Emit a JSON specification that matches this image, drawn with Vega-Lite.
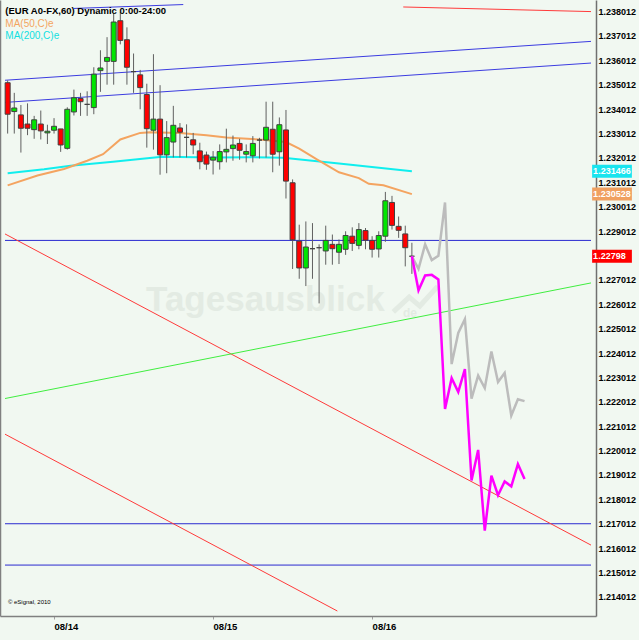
{
  "$schema": "https://vega.github.io/schema/vega-lite/v6.json",
  "width": 596,
  "height": 616,
  "autosize": {"type": "none"},
  "padding": {"left": 0, "top": 0, "right": 43, "bottom": 24},
  "background": "#f1f8f1",
  "config": {
    "view": {"stroke": null},
    "axis": {"grid": false, "labelFont": "Liberation Sans", "labelColor": "#000000", "domainColor": "#808080", "domainWidth": 1.5}
  },
  "datasets": {
    "candles": [
      {"i":0,"o":1.235095,"h":1.235188,"l":1.233010,"c":1.233804},
      {"i":1,"o":1.233913,"h":1.234680,"l":1.233010,"c":1.234059},
      {"i":2,"o":1.233776,"h":1.234180,"l":1.232231,"c":1.233228},
      {"i":3,"o":1.233401,"h":1.234248,"l":1.232945,"c":1.233228},
      {"i":4,"o":1.233171,"h":1.233736,"l":1.232796,"c":1.233574},
      {"i":5,"o":1.233401,"h":1.233954,"l":1.232768,"c":1.233119},
      {"i":6,"o":1.233038,"h":1.233373,"l":1.232582,"c":1.233106},
      {"i":7,"o":1.233147,"h":1.233643,"l":1.233010,"c":1.233308},
      {"i":8,"o":1.233200,"h":1.233200,"l":1.232259,"c":1.232542},
      {"i":9,"o":1.232405,"h":1.234087,"l":1.232352,"c":1.234006},
      {"i":10,"o":1.233897,"h":1.234813,"l":1.233752,"c":1.234478},
      {"i":11,"o":1.234450,"h":1.234680,"l":1.233736,"c":1.234317},
      {"i":12,"o":1.234208,"h":1.234744,"l":1.233736,"c":1.234208},
      {"i":13,"o":1.234075,"h":1.235729,"l":1.233804,"c":1.235446},
      {"i":14,"o":1.235591,"h":1.236426,"l":1.234720,"c":1.235700},
      {"i":15,"o":1.235971,"h":1.236963,"l":1.235015,"c":1.236132},
      {"i":16,"o":1.235971,"h":1.237947,"l":1.235015,"c":1.237584},
      {"i":17,"o":1.237637,"h":1.238000,"l":1.236668,"c":1.236830},
      {"i":18,"o":1.236858,"h":1.237366,"l":1.235015,"c":1.235729},
      {"i":19,"o":1.235551,"h":1.236293,"l":1.234680,"c":1.235551},
      {"i":20,"o":1.235418,"h":1.235620,"l":1.234006,"c":1.234894},
      {"i":21,"o":1.234611,"h":1.235055,"l":1.232433,"c":1.233211},
      {"i":22,"o":1.233147,"h":1.236265,"l":1.232352,"c":1.233603},
      {"i":23,"o":1.233603,"h":1.234994,"l":1.231324,"c":1.232138},
      {"i":24,"o":1.232138,"h":1.233522,"l":1.231384,"c":1.232844},
      {"i":25,"o":1.232663,"h":1.234147,"l":1.232030,"c":1.233349},
      {"i":26,"o":1.233240,"h":1.233441,"l":1.232030,"c":1.233066},
      {"i":27,"o":1.232856,"h":1.233389,"l":1.232030,"c":1.232856},
      {"i":28,"o":1.232756,"h":1.233038,"l":1.232163,"c":1.232542},
      {"i":29,"o":1.232300,"h":1.232635,"l":1.231545,"c":1.231856},
      {"i":30,"o":1.232130,"h":1.232272,"l":1.231525,"c":1.231759},
      {"i":31,"o":1.231921,"h":1.232292,"l":1.231332,"c":1.232042},
      {"i":32,"o":1.231856,"h":1.232566,"l":1.231533,"c":1.232272},
      {"i":33,"o":1.232259,"h":1.233211,"l":1.231828,"c":1.232364},
      {"i":34,"o":1.232393,"h":1.232929,"l":1.231896,"c":1.232542},
      {"i":35,"o":1.232606,"h":1.232796,"l":1.231937,"c":1.232324},
      {"i":36,"o":1.232163,"h":1.232566,"l":1.231828,"c":1.232272},
      {"i":37,"o":1.232098,"h":1.232905,"l":1.231828,"c":1.232606},
      {"i":38,"o":1.232744,"h":1.232836,"l":1.231989,"c":1.232744},
      {"i":39,"o":1.232744,"h":1.234317,"l":1.232030,"c":1.233268},
      {"i":40,"o":1.233187,"h":1.234317,"l":1.231424,"c":1.232163},
      {"i":41,"o":1.232263,"h":1.233671,"l":1.231695,"c":1.233373},
      {"i":42,"o":1.233159,"h":1.233978,"l":1.230347,"c":1.231061},
      {"i":43,"o":1.230993,"h":1.231130,"l":1.227459,"c":1.228653},
      {"i":44,"o":1.228601,"h":1.229274,"l":1.227056,"c":1.227499},
      {"i":45,"o":1.227499,"h":1.229407,"l":1.226757,"c":1.228359},
      {"i":46,"o":1.228290,"h":1.229339,"l":1.227056,"c":1.228290},
      {"i":47,"o":1.228330,"h":1.228468,"l":1.226047,"c":1.228330},
      {"i":48,"o":1.228197,"h":1.229234,"l":1.227633,"c":1.228629},
      {"i":49,"o":1.228468,"h":1.228871,"l":1.227633,"c":1.228290},
      {"i":50,"o":1.228145,"h":1.228669,"l":1.227661,"c":1.228468},
      {"i":51,"o":1.228266,"h":1.229004,"l":1.228036,"c":1.228831},
      {"i":52,"o":1.228802,"h":1.229165,"l":1.228197,"c":1.228508},
      {"i":53,"o":1.228427,"h":1.229339,"l":1.228266,"c":1.229073},
      {"i":54,"o":1.229032,"h":1.229137,"l":1.228266,"c":1.228641},
      {"i":55,"o":1.228629,"h":1.228802,"l":1.227927,"c":1.228266},
      {"i":56,"o":1.228278,"h":1.229004,"l":1.227927,"c":1.228831},
      {"i":57,"o":1.228802,"h":1.230618,"l":1.228572,"c":1.230255},
      {"i":58,"o":1.230186,"h":1.230456,"l":1.229073,"c":1.229246},
      {"i":59,"o":1.229206,"h":1.229609,"l":1.228734,"c":1.229044},
      {"i":60,"o":1.228895,"h":1.229234,"l":1.227564,"c":1.228330},
      {"i":61,"o":1.227980,"h":1.228532,"l":1.227257,"c":1.227980}
    ],
    "ma": [
      {"s":"MA200","i":0,"p":1.231384},
      {"s":"MA200","i":5.5,"p":1.231545},
      {"s":"MA200","i":9.5,"p":1.231695},
      {"s":"MA200","i":15.9,"p":1.231856},
      {"s":"MA200","i":23.3,"p":1.232058},
      {"s":"MA200","i":31.2,"p":1.232030},
      {"s":"MA200","i":36.7,"p":1.232042},
      {"s":"MA200","i":41.6,"p":1.232017},
      {"s":"MA200","i":50,"p":1.231780},
      {"s":"MA200","i":61,"p":1.231466},
      {"s":"MA50","i":0,"p":1.230888},
      {"s":"MA50","i":4.5,"p":1.231291},
      {"s":"MA50","i":8.5,"p":1.231558},
      {"s":"MA50","i":12,"p":1.231896},
      {"s":"MA50","i":14.4,"p":1.232163},
      {"s":"MA50","i":17,"p":1.232768},
      {"s":"MA50","i":20,"p":1.233038},
      {"s":"MA50","i":21.5,"p":1.233066},
      {"s":"MA50","i":26,"p":1.233038},
      {"s":"MA50","i":30,"p":1.232945},
      {"s":"MA50","i":33,"p":1.232850},
      {"s":"MA50","i":38,"p":1.232768},
      {"s":"MA50","i":42,"p":1.232663},
      {"s":"MA50","i":44,"p":1.232393},
      {"s":"MA50","i":46.6,"p":1.231961},
      {"s":"MA50","i":50,"p":1.231424},
      {"s":"MA50","i":53,"p":1.231182},
      {"s":"MA50","i":54.5,"p":1.230952},
      {"s":"MA50","i":56.7,"p":1.230888},
      {"s":"MA50","i":61,"p":1.230528}
    ],
    "proj": [
      {"s":"gray","i":61,"p":1.227980},
      {"s":"gray","i":62,"p":1.227459},
      {"s":"gray","i":63,"p":1.228468},
      {"s":"gray","i":64,"p":1.227822},
      {"s":"gray","i":65,"p":1.227996},
      {"s":"gray","i":66,"p":1.230186},
      {"s":"gray","i":67,"p":1.223558},
      {"s":"gray","i":68,"p":1.224837},
      {"s":"gray","i":69,"p":1.225402},
      {"s":"gray","i":70,"p":1.222146},
      {"s":"gray","i":71,"p":1.223086},
      {"s":"gray","i":72,"p":1.222578},
      {"s":"gray","i":73,"p":1.224071},
      {"s":"gray","i":74,"p":1.222820},
      {"s":"gray","i":75,"p":1.223195},
      {"s":"gray","i":76,"p":1.221449},
      {"s":"gray","i":77,"p":1.222118},
      {"s":"gray","i":78,"p":1.222038},
      {"s":"magenta","i":61,"p":1.227980},
      {"s":"magenta","i":62,"p":1.226584},
      {"s":"magenta","i":63,"p":1.227189},
      {"s":"magenta","i":64,"p":1.227217},
      {"s":"magenta","i":65,"p":1.227027},
      {"s":"magenta","i":66,"p":1.221715},
      {"s":"magenta","i":67,"p":1.222981},
      {"s":"magenta","i":68,"p":1.222417},
      {"s":"magenta","i":69,"p":1.223357},
      {"s":"magenta","i":70,"p":1.218786},
      {"s":"magenta","i":71,"p":1.220037},
      {"s":"magenta","i":72,"p":1.216729},
      {"s":"magenta","i":73,"p":1.218988},
      {"s":"magenta","i":74,"p":1.218181},
      {"s":"magenta","i":75,"p":1.218746},
      {"s":"magenta","i":76,"p":1.218544},
      {"s":"magenta","i":77,"p":1.219456},
      {"s":"magenta","i":78,"p":1.218851}
    ],
    "lines": [
      {"id":"chan_top","kind":"channel","i":10,"p":1.238141},
      {"id":"chan_top","kind":"channel","i":26.5,"p":1.238300},
      {"id":"chan_up","kind":"channel","i":-0.4,"p":1.235196},
      {"id":"chan_up","kind":"channel","i":88.03,"p":1.236790},
      {"id":"chan_lo","kind":"channel","i":-0.4,"p":1.234288},
      {"id":"chan_lo","kind":"channel","i":88.03,"p":1.235902},
      {"id":"h1","kind":"level","i":-0.4,"p":1.228629},
      {"id":"h1","kind":"level","i":88.03,"p":1.228629},
      {"id":"h2","kind":"level","i":-0.4,"p":1.217012},
      {"id":"h2","kind":"level","i":88.03,"p":1.217012},
      {"id":"h3","kind":"level","i":-0.4,"p":1.215317},
      {"id":"h3","kind":"level","i":88.03,"p":1.215317},
      {"id":"r_top","kind":"resist","i":59.7,"p":1.238201},
      {"id":"r_top","kind":"resist","i":88.03,"p":1.238012},
      {"id":"r1","kind":"resist","i":-0.4,"p":1.228895},
      {"id":"r1","kind":"resist","i":88.03,"p":1.216136},
      {"id":"r2","kind":"resist","i":-0.4,"p":1.220684},
      {"id":"r2","kind":"resist","i":49.75,"p":1.213434},
      {"id":"g1","kind":"support","i":-0.4,"p":1.222146},
      {"id":"g1","kind":"support","i":88.03,"p":1.226886}
    ],
    "arrow": [
      {"i":58.2,"p":1.225696},
      {"i":60.6,"p":1.226301},
      {"i":62.2,"p":1.225938},
      {"i":64.9,"p":1.226745}
    ],
    "tags": [
      {"kind":"MA200","p":1.231466,"txt":"1.231466"},
      {"kind":"MA50","p":1.230528,"txt":"1.230528"},
      {"kind":"last","p":1.227980,"txt":"1.22798"}
    ]
  },
  "resolve": {"axis": {"y": "independent"}, "scale": {"color": "independent"}},
  "layer": [
    {
      "data": {"name": "lines"},
      "mark": {"type": "line", "strokeWidth": 1, "clip": true},
      "encoding": {
        "x": {"field": "i", "type": "quantitative", "title": null,
          "scale": {"domain": [-0.4, 88.03], "nice": false, "zero": false},
          "axis": {"orient": "bottom", "values": [7, 31, 55], "labelExpr": "datum.value == 7 ? '08/14' : datum.value == 31 ? '08/15' : '08/16'",
            "labelAlign": "left", "labelFontWeight": "bold", "labelFontSize": 9.5, "tickSize": 3, "tickColor": "#a0a0a0", "labelPadding": 2, "labelFlush": false}},
        "y": {"field": "p", "type": "quantitative", "title": null,
          "scale": {"domain": [1.213434, 1.238282], "nice": false, "zero": false},
          "axis": {"orient": "left", "labels": false, "ticks": false, "domain": true}},
        "detail": {"field": "id"},
        "color": {"field": "kind", "type": "nominal", "legend": null,
          "scale": {"domain": ["channel", "level", "resist", "support"], "range": ["#3c3ce0", "#2a2ad0", "#ff3a3a", "#40ee40"]}}
      }
    },
    {
      "data": {"values": [{}]},
      "mark": {"type": "text", "font": "Liberation Sans", "fontWeight": "bold", "fontSize": 35, "color": "#e3ebe3", "align": "center", "baseline": "middle"},
      "encoding": {
        "x": {"datum": 38.9, "type": "quantitative"},
        "y": {"datum": 1.22618, "type": "quantitative", "axis": null},
        "text": {"value": "Tagesausblick"}
      }
    },
    {
      "data": {"name": "arrow"},
      "mark": {"type": "line", "strokeWidth": 5, "color": "#e3ebe3"},
      "encoding": {
        "x": {"field": "i", "type": "quantitative", "title": null},
        "y": {"field": "p", "type": "quantitative", "title": null, "axis": null}
      }
    },
    {
      "data": {"values": [{}]},
      "mark": {"type": "text", "font": "Liberation Sans", "fontWeight": "bold", "fontSize": 12, "color": "#e3ebe3", "align": "center", "baseline": "middle"},
      "encoding": {
        "x": {"datum": 60.7, "type": "quantitative"},
        "y": {"datum": 1.225656, "type": "quantitative", "axis": null},
        "text": {"value": "de"}
      }
    },
    {
      "data": {"name": "ma"},
      "mark": {"type": "line", "strokeWidth": 2},
      "encoding": {
        "x": {"field": "i", "type": "quantitative", "title": null},
        "y": {"field": "p", "type": "quantitative", "title": null, "axis": null},
        "color": {"field": "s", "type": "nominal", "legend": null,
          "scale": {"domain": ["MA50", "MA200"], "range": ["#f4a460", "#10eeee"]}}
      }
    },
    {
      "data": {"name": "candles"},
      "mark": {"type": "rule", "color": "#606060", "strokeWidth": 1},
      "encoding": {
        "x": {"field": "i", "type": "quantitative", "title": null},
        "y": {"field": "l", "type": "quantitative", "title": null,
          "axis": {"orient": "right", "values": [1.214012,1.215012,1.216012,1.217012,1.218012,1.219012,1.220012,1.221012,1.222012,1.223012,1.224012,1.225012,1.226012,1.227012,1.229012,1.230012,1.231012,1.232012,1.233012,1.234012,1.235012,1.236012,1.237012,1.238012],
            "format": ".6f", "labelFontWeight": "bold", "labelFontSize": 9, "ticks": false, "labelPadding": 2, "labelFlush": false, "labelOverlap": false, "domainColor": "#707070"}},
        "y2": {"field": "h"}
      }
    },
    {
      "data": {"name": "candles"},
      "mark": {"type": "bar", "size": 5, "stroke": "#404040", "strokeWidth": 1},
      "encoding": {
        "x": {"field": "i", "type": "quantitative", "title": null},
        "y": {"field": "o", "type": "quantitative", "title": null, "axis": null},
        "y2": {"field": "c"},
        "fill": {"condition": [{"test": "datum.c > datum.o", "value": "#00e600"}, {"test": "datum.c < datum.o", "value": "#ff0000"}], "value": "#000000"}
      }
    },
    {
      "data": {"name": "proj"},
      "mark": {"type": "line", "strokeWidth": 2.5},
      "encoding": {
        "x": {"field": "i", "type": "quantitative", "title": null},
        "y": {"field": "p", "type": "quantitative", "title": null, "axis": null},
        "color": {"field": "s", "type": "nominal", "legend": null,
          "scale": {"domain": ["gray", "magenta"], "range": ["#bcbcbc", "#ff00ff"]}}
      }
    },
    {
      "data": {"values": [{}]},
      "mark": {"type": "text", "font": "Liberation Sans", "fontWeight": "bold", "fontSize": 9.5, "color": "#000000", "align": "left", "baseline": "middle"},
      "encoding": {
        "x": {"datum": -0.35, "type": "quantitative"},
        "y": {"datum": 1.23804, "type": "quantitative", "axis": null},
        "text": {"value": "(EUR A0-FX,60) Dynamic 0:00-24:00"}
      }
    },
    {
      "data": {"values": [{}]},
      "mark": {"type": "text", "font": "Liberation Sans", "fontSize": 10, "color": "#f4a460", "align": "left", "baseline": "middle"},
      "encoding": {
        "x": {"datum": -0.35, "type": "quantitative"},
        "y": {"datum": 1.237516, "type": "quantitative", "axis": null},
        "text": {"value": "MA(50,C)e"}
      }
    },
    {
      "data": {"values": [{}]},
      "mark": {"type": "text", "font": "Liberation Sans", "fontSize": 10, "color": "#10e0e0", "align": "left", "baseline": "middle"},
      "encoding": {
        "x": {"datum": -0.35, "type": "quantitative"},
        "y": {"datum": 1.237031, "type": "quantitative", "axis": null},
        "text": {"value": "MA(200,C)e"}
      }
    },
    {
      "data": {"values": [{}]},
      "mark": {"type": "text", "font": "Liberation Sans", "fontSize": 6, "color": "#000000", "align": "left", "baseline": "middle"},
      "encoding": {
        "x": {"datum": 0.04, "type": "quantitative"},
        "y": {"datum": 1.213796, "type": "quantitative", "axis": null},
        "text": {"value": "© eSignal, 2010"}
      }
    },
    {
      "data": {"name": "tags"},
      "mark": {"type": "bar", "size": 13, "orient": "horizontal"},
      "encoding": {
        "x": {"datum": 88.2, "type": "quantitative"},
        "x2": {"datum": 94.2},
        "y": {"field": "p", "type": "quantitative", "title": null, "axis": null},
        "color": {"field": "kind", "type": "nominal", "legend": null,
          "scale": {"domain": ["MA200", "MA50", "last"], "range": ["#19e4ee", "#f0a060", "#ff0000"]}}
      }
    },
    {
      "data": {"name": "tags"},
      "mark": {"type": "text", "font": "Liberation Sans", "fontWeight": "bold", "fontSize": 9, "color": "#ffffff", "align": "left", "baseline": "middle"},
      "encoding": {
        "x": {"datum": 88.35, "type": "quantitative"},
        "y": {"field": "p", "type": "quantitative", "title": null, "axis": null},
        "text": {"field": "txt"}
      }
    }
  ]
}
